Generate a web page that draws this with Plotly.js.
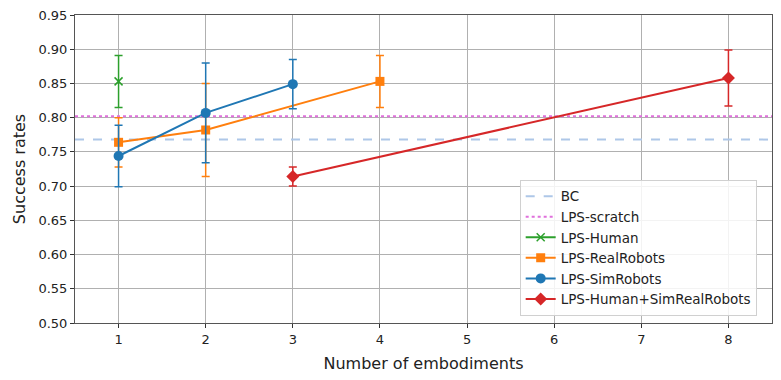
<!DOCTYPE html>
<html>
<head>
<meta charset="utf-8">
<script src="https://cdn.plot.ly/plotly-3.0.1.min.js"></script>
<style>html,body{margin:0;padding:0;background:#fff;}#chart{width:781px;height:380px;}</style>
</head>
<body>
<div id="chart"></div>
<script>
// Reference lines
const xRange = [0.5, 8.5];
const bcValue = 0.768;
const scratchValue = 0.802;

// LPS-Human
const humanX = [1];
const humanY = [0.853];
const humanErr = [0.038];

// LPS-RealRobots
const realX = [1, 2, 4];
const realY = [0.764, 0.782, 0.853];
const realErr = [0.036, 0.068, 0.038];

// LPS-SimRobots
const simX = [1, 2, 3];
const simY = [0.744, 0.807, 0.849];
const simErr = [0.045, 0.073, 0.036];

// LPS-Human+SimRealRobots
const allX = [3, 8];
const allY = [0.714, 0.858];
const allErr = [0.014, 0.041];

const xTicks = [1, 2, 3, 4, 5, 6, 7, 8];
const yTicks = [0.50, 0.55, 0.60, 0.65, 0.70, 0.75, 0.80, 0.85, 0.90, 0.95];

function errTrace(name, x, y, e, color, symbol, size) {
  return {
    type: 'scatter', mode: 'lines+markers', name: name, x: x, y: y,
    line: {color: color, width: 2},
    marker: {color: color, symbol: symbol, size: size, line: {color: color, width: symbol === 'x-thin' ? 1.5 : 0}},
    error_y: {type: 'data', array: e, visible: true, color: color, thickness: 1.5, width: 4}
  };
}

const traces = [
  {type: 'scatter', mode: 'lines', name: 'BC', x: xRange, y: [bcValue, bcValue],
   line: {color: '#aec7e8', width: 2, dash: 'dash'}},
  {type: 'scatter', mode: 'lines', name: 'LPS-scratch', x: xRange, y: [scratchValue, scratchValue],
   line: {color: '#e070dc', width: 2, dash: 'dot'}},
  errTrace('LPS-Human', humanX, humanY, humanErr, '#2ca02c', 'x-thin', 8),
  errTrace('LPS-RealRobots', realX, realY, realErr, '#ff7f0e', 'square', 9),
  errTrace('LPS-SimRobots', simX, simY, simErr, '#1f77b4', 'circle', 10),
  errTrace('LPS-Human+SimRealRobots', allX, allY, allErr, '#d62728', 'diamond', 10)
];

const axisCommon = {
  showgrid: true, gridcolor: '#b0b0b0', gridwidth: 1,
  showline: true, linecolor: '#555', linewidth: 1, mirror: true,
  ticks: 'outside', ticklen: 4, tickcolor: '#333', zeroline: false,
  tickfont: {size: 13, color: '#222'}
};

const layout = {
  width: 781, height: 380,
  margin: {l: 75, r: 9, t: 15, b: 57},
  paper_bgcolor: '#fff', plot_bgcolor: '#fff',
  font: {family: 'DejaVu Sans, sans-serif', color: '#222'},
  xaxis: Object.assign({}, axisCommon, {
    range: xRange, tickvals: xTicks, ticktext: xTicks.map(String),
    title: {text: 'Number of embodiments', font: {size: 16}, standoff: 12}
  }),
  yaxis: Object.assign({}, axisCommon, {
    range: [0.50, 0.95], tickvals: yTicks, ticktext: yTicks.map(v => v.toFixed(2)),
    title: {text: 'Success rates', font: {size: 16}, standoff: 8}
  }),
  showlegend: true,
  legend: {
    x: 0.638, y: 0.023, xanchor: 'left', yanchor: 'bottom',
    bgcolor: 'rgba(255,255,255,0.85)', bordercolor: '#d0d0d0', borderwidth: 1,
    font: {size: 13.5, color: '#222'}, tracegroupgap: 0
  }
};

Plotly.newPlot('chart', traces, layout, {displayModeBar: false, staticPlot: true});
</script>
</body>
</html>
